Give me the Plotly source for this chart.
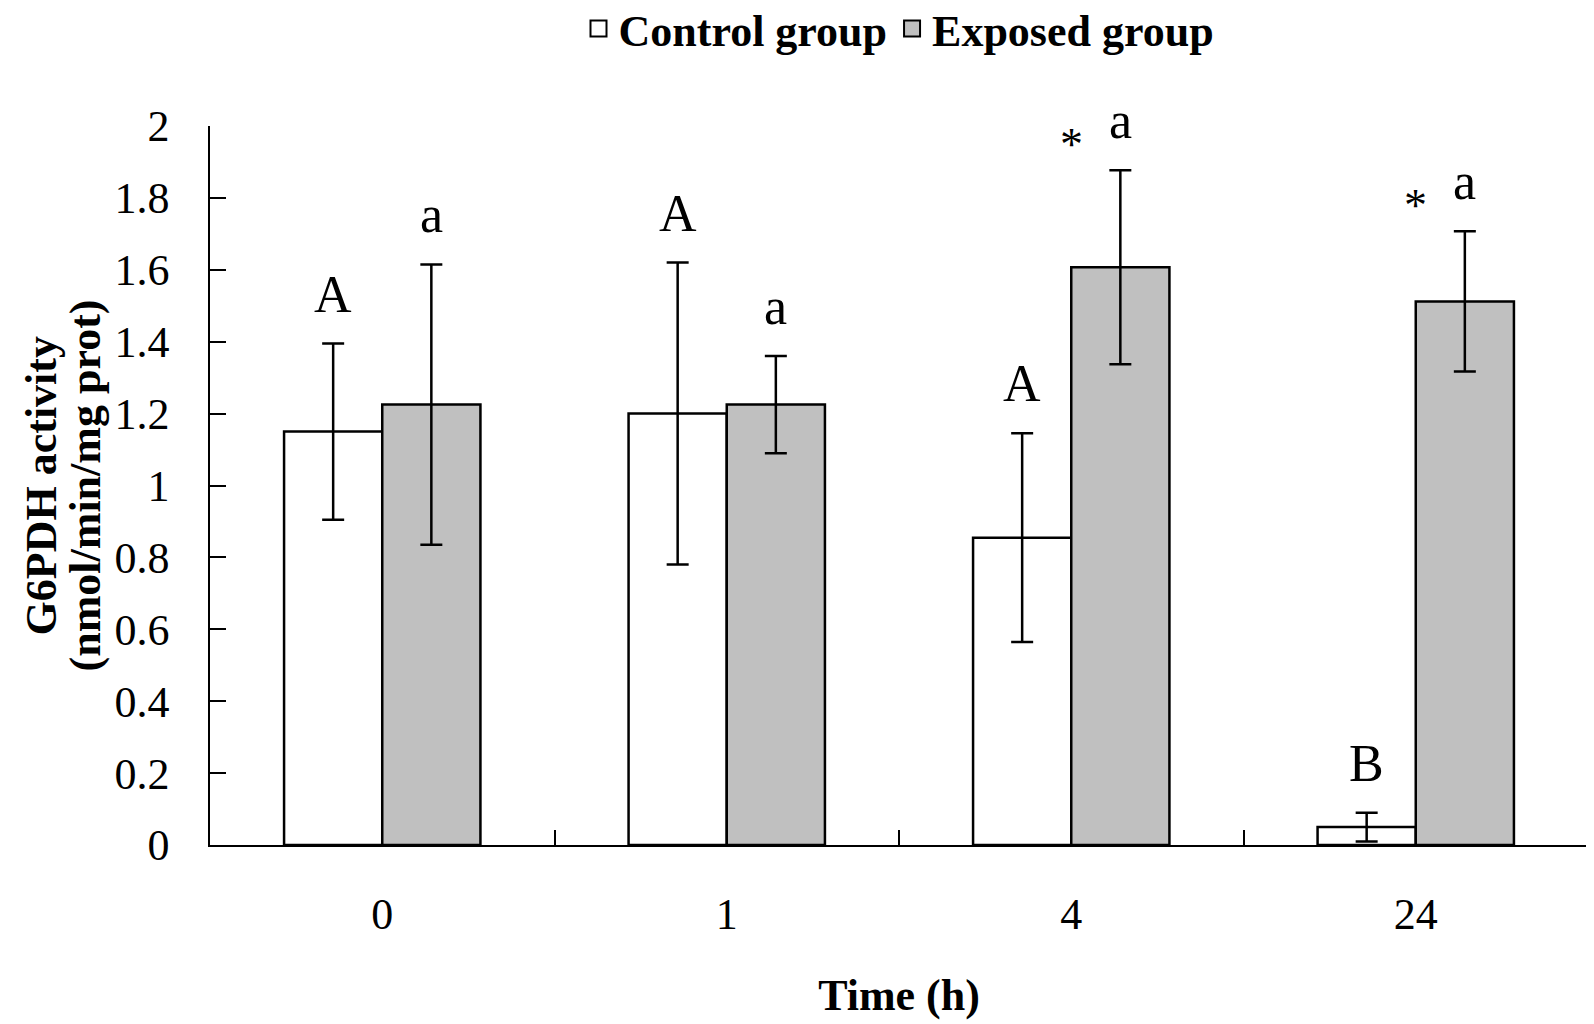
import plotly.graph_objects as go

categories = ["0", "1", "4", "24"]
control_mean = [1.15, 1.20, 0.855, 0.05]
control_err = [0.245, 0.42, 0.29, 0.04]
exposed_mean = [1.225, 1.225, 1.607, 1.512]
exposed_err = [0.39, 0.135, 0.27, 0.195]
control_letters = ["A", "A", "A", "B"]
exposed_letters = ["a", "a", "a", "a"]
star_flags = [False, False, True, True]
series_names = ["Control group", "Exposed group"]
series_colors = ["white", "#C0C0C0"]

BARGAP = 0.43
SERIF = "Liberation Serif, Times New Roman, serif"

fig = go.Figure()
for name, color, means, errs in zip(series_names, series_colors,
                                    [control_mean, exposed_mean],
                                    [control_err, exposed_err]):
    fig.add_trace(go.Bar(
        name=name, x=categories, y=means, legendgroup=name, showlegend=False,
        marker=dict(color=color, line=dict(color="black", width=2.5)),
        error_y=dict(type="data", array=errs, visible=True,
                     color="black", thickness=2.5, width=11),
    ))
    # legend entry with a larger square swatch
    fig.add_trace(go.Scatter(
        name=name, x=[None], y=[None], mode="markers", legendgroup=name,
        marker=dict(symbol="square", size=24, color=color,
                    line=dict(color="black", width=2)),
    ))

off = (1 - BARGAP) / 4.0
for i, cat in enumerate(categories):
    fig.add_annotation(x=i - off, y=control_mean[i] + control_err[i],
                       text=control_letters[i], showarrow=False,
                       yanchor="bottom", yshift=19,
                       font=dict(family=SERIF, size=52, color="black"))
    fig.add_annotation(x=i + off, y=exposed_mean[i] + exposed_err[i],
                       text=exposed_letters[i], showarrow=False,
                       yanchor="bottom", yshift=19,
                       font=dict(family=SERIF, size=52, color="black"))
    if star_flags[i]:
        fig.add_annotation(x=i, y=exposed_mean[i] + exposed_err[i],
                           text="*", showarrow=False,
                           yanchor="bottom", yshift=-2,
                           font=dict(family=SERIF, size=46, color="black"))

# y-axis title, two rotated lines
for txt, xpos in [("G6PDH activity", -0.122), ("(nmol/min/mg prot)", -0.090)]:
    fig.add_annotation(xref="paper", yref="paper", x=xpos, y=0.5,
                       xanchor="center", yanchor="middle", textangle=-90,
                       text=txt, showarrow=False,
                       font=dict(family=SERIF, size=44, color="black", weight="bold"))

fig.update_layout(
    width=1586, height=1016,
    margin=dict(l=202, r=6, t=118, b=179, autoexpand=False),
    paper_bgcolor="white", plot_bgcolor="white",
    barmode="group", bargap=BARGAP, bargroupgap=0,
    font=dict(family=SERIF, color="black"),
    showlegend=True,
    legend=dict(orientation="h", x=0.5, xanchor="center", y=1.135, yanchor="middle",
                font=dict(family=SERIF, size=44, color="black", weight="bold"),
                bgcolor="rgba(0,0,0,0)", itemwidth=30, tracegroupgap=0),
    xaxis=dict(
        type="category", tickson="boundaries",
        ticks="inside", ticklen=15, tickwidth=1.5, tickcolor="black",
        showline=True, linecolor="black", linewidth=1.5,
        tickfont=dict(family=SERIF, size=44, color="black"),
        ticklabelstandoff=29,
        title=dict(text="Time (h)", font=dict(family=SERIF, size=44, color="black", weight="bold"),
                   standoff=42),
        showgrid=False, zeroline=False,
    ),
    yaxis=dict(
        range=[0, 2], tickvals=[0, 0.2, 0.4, 0.6, 0.8, 1, 1.2, 1.4, 1.6, 1.8, 2],
        ticktext=["0", "0.2", "0.4", "0.6", "0.8", "1", "1.2", "1.4", "1.6", "1.8", "2"],
        ticks="inside", ticklen=16, tickwidth=1.5, tickcolor="black",
        showline=True, linecolor="black", linewidth=1.5,
        tickfont=dict(family=SERIF, size=44, color="black"),
        ticklabelstandoff=30,
        showgrid=False, zeroline=False,
    ),
)

fig.write_html("out.html")
